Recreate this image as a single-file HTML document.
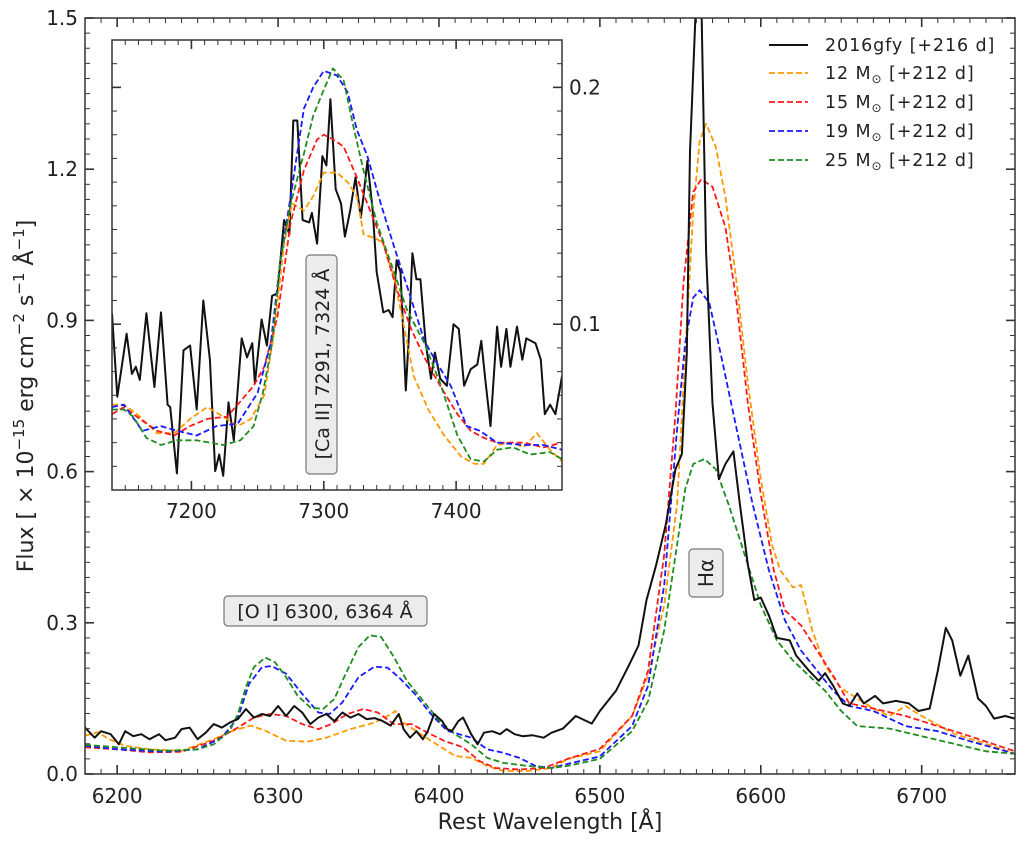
<!DOCTYPE html>
<html><head><meta charset="utf-8">
<style>
body{margin:0;background:#fff;}
svg{display:block;font-family:"DejaVu Sans","Liberation Sans",sans-serif;}
</style></head>
<body>
<svg id="chart" width="1025" height="845" viewBox="0 0 1025 845" xmlns="http://www.w3.org/2000/svg">
<defs>
<clipPath id="mainClip"><rect x="85" y="18" width="930" height="756"/></clipPath>
<clipPath id="insetClip"><rect x="112" y="40" width="450" height="450"/></clipPath>
</defs>
<g id="main"></g>
<g id="inset"></g>
<text x="550" y="829" font-size="22" text-anchor="middle" fill="#222">Rest Wavelength [Å]</text>
<text transform="translate(33,396) rotate(-90)" font-size="22" text-anchor="middle" fill="#222">Flux [ × 10<tspan dy="-9" font-size="15">−15</tspan><tspan dy="9"> erg cm</tspan><tspan dy="-9" font-size="15">−2</tspan><tspan dy="9"> s</tspan><tspan dy="-9" font-size="15">−1</tspan><tspan dy="9"> Å</tspan><tspan dy="-9" font-size="15">−1</tspan><tspan dy="9">]</tspan></text>
<g>
<rect x="224" y="596" width="203" height="30" rx="4" fill="#ececec" stroke="#777" stroke-width="1.2"/>
<text x="325" y="618" font-size="19" text-anchor="middle" fill="#222">[O I] 6300,  6364 Å</text>
</g>
<g>
<rect x="689" y="549" width="34" height="48" rx="4" fill="#ececec" stroke="#777" stroke-width="1.2"/>
<text transform="translate(713,573) rotate(-90)" font-size="20" text-anchor="middle" fill="#222">Hα</text>
</g>
<g id="legend"></g>
</svg>
<script>
// ---------- main panel data ----------
const obsWave = [6180,6186,6190,6196,6201,6205,6210,6215,6220,6226,6230,6236,6240,6245,6250,6255,6260,6265,6270,6275,6280,6285,6290,6295,6300,6305,6310,6315,6320,6325,6330,6335,6340,6345,6350,6355,6360,6365,6370,6375,6378,6382,6386,6390,6393,6397,6402,6405,6408,6412,6415,6420,6424,6428,6433,6438,6442,6447,6452,6458,6465,6470,6477,6485,6495,6500,6510,6518,6524,6529,6535,6541,6547,6551,6554,6556,6560,6563,6566,6570,6574,6578,6583,6587,6592,6596,6600,6605,6610,6618,6622,6630,6636,6640,6645,6651,6655,6660,6664,6671,6676,6684,6692,6698,6705,6710,6715,6719,6724,6729,6735,6740,6745,6752,6758];
const obsFlux = [0.092,0.072,0.085,0.079,0.059,0.085,0.075,0.079,0.069,0.079,0.067,0.072,0.089,0.092,0.069,0.082,0.099,0.092,0.102,0.109,0.129,0.112,0.119,0.115,0.135,0.115,0.135,0.122,0.099,0.112,0.119,0.105,0.122,0.112,0.119,0.109,0.111,0.105,0.096,0.119,0.089,0.072,0.085,0.069,0.085,0.119,0.105,0.089,0.085,0.105,0.112,0.079,0.059,0.082,0.085,0.079,0.089,0.079,0.075,0.077,0.072,0.082,0.09,0.115,0.10,0.125,0.165,0.215,0.255,0.345,0.415,0.495,0.605,0.635,0.835,1.235,1.55,1.55,1.035,0.735,0.585,0.615,0.64,0.535,0.415,0.345,0.35,0.315,0.27,0.265,0.235,0.205,0.185,0.2,0.175,0.14,0.135,0.16,0.14,0.155,0.14,0.145,0.14,0.125,0.13,0.205,0.29,0.265,0.195,0.235,0.15,0.135,0.11,0.115,0.11];
const m12Wave = [6180,6188,6195,6205,6220,6240,6260,6272,6283,6292,6305,6318,6330,6345,6360,6368,6373,6378,6390,6400,6410,6420,6430,6440,6455,6470,6480,6500,6520,6530,6540,6548,6553,6558,6562,6566,6572,6578,6585,6592,6600,6607,6612,6620,6625,6632,6640,6650,6660,6670,6680,6690,6700,6720,6740,6758];
const m12Flux = [0.076,0.083,0.069,0.056,0.049,0.046,0.069,0.086,0.096,0.086,0.066,0.064,0.072,0.089,0.102,0.115,0.125,0.102,0.076,0.056,0.036,0.032,0.016,0.006,0.006,0.012,0.03,0.045,0.115,0.195,0.335,0.535,0.835,1.115,1.255,1.29,1.245,1.145,0.975,0.775,0.585,0.455,0.405,0.37,0.375,0.285,0.215,0.17,0.15,0.13,0.115,0.135,0.115,0.08,0.06,0.04];
const m15Wave = [6180,6200,6220,6240,6260,6275,6285,6295,6305,6315,6325,6333,6343,6353,6362,6372,6383,6393,6403,6415,6425,6435,6450,6465,6480,6500,6520,6530,6540,6547,6552,6558,6563,6570,6578,6585,6592,6600,6608,6615,6625,6635,6645,6655,6670,6690,6710,6730,6758];
const m15Flux = [0.053,0.049,0.043,0.044,0.066,0.092,0.112,0.119,0.115,0.099,0.089,0.099,0.119,0.129,0.122,0.099,0.099,0.082,0.066,0.053,0.026,0.012,0.009,0.012,0.03,0.05,0.115,0.205,0.435,0.715,0.975,1.155,1.18,1.165,1.085,0.935,0.735,0.555,0.405,0.325,0.295,0.245,0.195,0.14,0.13,0.115,0.095,0.075,0.045];
const m19Wave = [6180,6200,6230,6250,6265,6275,6282,6290,6296,6305,6315,6325,6332,6340,6350,6360,6368,6375,6385,6395,6405,6420,6430,6440,6450,6460,6470,6480,6500,6520,6530,6540,6548,6553,6558,6562,6568,6575,6585,6595,6605,6615,6625,6635,6645,6655,6670,6690,6710,6730,6758];
const m19Flux = [0.056,0.049,0.044,0.049,0.072,0.112,0.179,0.212,0.214,0.199,0.159,0.122,0.119,0.142,0.192,0.213,0.211,0.192,0.159,0.119,0.086,0.072,0.049,0.042,0.032,0.016,0.012,0.02,0.035,0.095,0.175,0.375,0.685,0.855,0.945,0.96,0.935,0.835,0.685,0.535,0.405,0.305,0.245,0.205,0.165,0.135,0.125,0.095,0.085,0.065,0.04];
const m25Wave = [6180,6200,6230,6250,6260,6270,6275,6280,6285,6292,6298,6305,6312,6320,6328,6335,6342,6350,6357,6364,6372,6380,6390,6400,6410,6420,6430,6440,6455,6470,6480,6500,6520,6530,6540,6548,6553,6558,6565,6572,6580,6590,6600,6610,6620,6630,6640,6650,6660,6680,6700,6720,6740,6758];
const m25Flux = [0.058,0.053,0.046,0.049,0.059,0.086,0.119,0.172,0.212,0.231,0.222,0.192,0.156,0.132,0.129,0.149,0.199,0.252,0.275,0.272,0.232,0.185,0.146,0.106,0.079,0.059,0.032,0.022,0.016,0.012,0.016,0.03,0.085,0.145,0.285,0.455,0.565,0.615,0.625,0.605,0.535,0.435,0.335,0.265,0.225,0.195,0.165,0.125,0.095,0.09,0.075,0.06,0.045,0.04];
const mainXTicks = [6200,6300,6400,6500,6600,6700];
const mainYTicks = [0.0,0.3,0.6,0.9,1.2,1.5];
const mainYLabels = ["0.0","0.3","0.6","0.9","1.2","1.5"];

// ---------- inset data ----------
const inObsWave = [7140,7144,7148,7151,7155,7158,7161,7166,7172,7177,7182,7184,7189,7194,7199,7204,7209,7214,7218,7221,7224,7228,7232,7238,7242,7246,7248,7253,7257,7261,7265,7270,7274,7277,7280,7284,7289,7291,7295,7299,7302,7305,7309,7313,7316,7320,7324,7328,7330,7333,7337,7340,7345,7349,7352,7355,7358,7362,7364,7367,7370,7373,7377,7381,7384,7388,7393,7398,7402,7406,7411,7416,7419,7422,7426,7431,7434,7438,7441,7446,7450,7453,7460,7464,7467,7471,7475,7480];
const inObsFlux = [0.1046,0.0694,0.0845,0.096,0.079,0.082,0.0765,0.1046,0.0735,0.105,0.066,0.065,0.037,0.089,0.091,0.064,0.110,0.085,0.038,0.045,0.036,0.067,0.051,0.094,0.086,0.092,0.075,0.102,0.091,0.112,0.113,0.144,0.138,0.186,0.186,0.144,0.143,0.147,0.134,0.171,0.167,0.195,0.157,0.151,0.137,0.148,0.162,0.145,0.154,0.169,0.148,0.122,0.105,0.106,0.103,0.127,0.122,0.072,0.092,0.130,0.119,0.119,0.092,0.077,0.088,0.077,0.074,0.100,0.098,0.074,0.081,0.083,0.093,0.077,0.057,0.099,0.082,0.098,0.082,0.099,0.085,0.094,0.092,0.085,0.062,0.066,0.062,0.078];
const in12Wave = [7140,7149,7159,7174,7187,7199,7212,7224,7235,7245,7255,7262,7270,7276,7285,7292,7300,7310,7318,7325,7330,7340,7345,7353,7361,7368,7379,7391,7404,7414,7421,7431,7443,7451,7461,7471,7480];
const in12Flux = [0.066,0.066,0.062,0.054,0.054,0.06,0.065,0.061,0.057,0.06,0.07,0.095,0.134,0.151,0.148,0.154,0.164,0.164,0.16,0.154,0.138,0.136,0.134,0.12,0.098,0.078,0.064,0.053,0.044,0.041,0.041,0.049,0.05,0.048,0.054,0.047,0.042];
const in15Wave = [7140,7149,7161,7174,7187,7199,7212,7227,7238,7247,7255,7265,7275,7285,7295,7300,7307,7315,7325,7335,7345,7355,7366,7376,7388,7401,7411,7421,7431,7451,7466,7480];
const in15Flux = [0.062,0.065,0.06,0.055,0.053,0.057,0.06,0.061,0.068,0.074,0.082,0.103,0.143,0.165,0.178,0.18,0.178,0.175,0.162,0.148,0.134,0.115,0.098,0.086,0.074,0.062,0.055,0.052,0.05,0.05,0.048,0.05];
const in19Wave = [7140,7149,7163,7177,7189,7204,7219,7235,7250,7260,7267,7275,7285,7292,7300,7310,7318,7325,7333,7343,7353,7363,7376,7385,7396,7408,7418,7431,7451,7466,7480];
const in19Flux = [0.065,0.066,0.055,0.057,0.055,0.053,0.057,0.058,0.071,0.092,0.126,0.154,0.191,0.2,0.207,0.205,0.198,0.182,0.171,0.151,0.133,0.116,0.093,0.084,0.074,0.057,0.055,0.05,0.049,0.049,0.047];
const in25Wave = [7140,7149,7156,7166,7177,7189,7204,7224,7237,7247,7254,7261,7267,7275,7285,7292,7300,7307,7315,7323,7330,7340,7350,7363,7376,7388,7401,7411,7421,7431,7443,7456,7471,7480];
const in25Flux = [0.064,0.064,0.061,0.052,0.049,0.051,0.051,0.049,0.051,0.057,0.071,0.092,0.126,0.151,0.172,0.188,0.199,0.208,0.203,0.182,0.165,0.143,0.127,0.106,0.092,0.075,0.053,0.043,0.042,0.047,0.048,0.045,0.046,0.043];
const inXTicks = [7200,7300,7400];
const inYTicks = [0.1,0.2];
const inYLabels = ["0.1","0.2"];

const legendLabels = ["2016gfy [+216 d]","12 M","15 M","19 M","25 M"];
const legendColors = ["#111","#ff9900","#ff1a1a","#1a1aff","#1f8c1f"];

const NS = "http://www.w3.org/2000/svg";
function mk(tag, attrs, parent){const e=document.createElementNS(NS,tag);for(const k in attrs)e.setAttribute(k,attrs[k]);parent.appendChild(e);return e;}

const MX0=85,MX1=1015,MY0=774,MY1=18, XMIN=6180,XMAX=6758,YMIN=0,YMAX=1.5;
const mx = v => MX0+(v-XMIN)/(XMAX-XMIN)*(MX1-MX0);
const my = v => MY0-(v-YMIN)/(YMAX-YMIN)*(MY0-MY1);
const IX0=112,IX1=562,IY0=490,IY1=40, IXMIN=7140,IXMAX=7480,IYMIN=0.03,IYMAX=0.22;
const ix = v => IX0+(v-IXMIN)/(IXMAX-IXMIN)*(IX1-IX0);
const iy = v => IY0-(v-IYMIN)/(IYMAX-IYMIN)*(IY0-IY1);

const main=document.getElementById('main');
const inset=document.getElementById('inset');

function pathD(xs,ys,fx,fy){return xs.map((x,i)=>(i?'L':'M')+fx(x).toFixed(1)+','+fy(ys[i]).toFixed(1)).join('');}

const mainCurves=[[m12Wave,m12Flux,1,'model-12msun-line'],[m15Wave,m15Flux,2,'model-15msun-line'],[m19Wave,m19Flux,3,'model-19msun-line'],[m25Wave,m25Flux,4,'model-25msun-line']];
const mg=mk('g',{'clip-path':'url(#mainClip)'},main);
mainCurves.forEach(c=>{
  const p=mk('path',{d:pathD(c[0],c[1],mx,my),fill:'none',stroke:legendColors[c[2]],'stroke-width':1.8,'stroke-dasharray':'6,3','stroke-linejoin':'round'},mg);
  
  
});
const op=mk('path',{d:pathD(obsWave,obsFlux,mx,my),fill:'none',stroke:'#111','stroke-width':2,'stroke-linejoin':'round'},mg);



mk('rect',{x:MX0,y:MY1,width:MX1-MX0,height:MY0-MY1,fill:'none',stroke:'#333','stroke-width':1.5},main);
for(let w=6180;w<=6758;w+=10){
  const major=w%100===0, L=major?9:5, X=mx(w);
  mk('line',{x1:X,y1:MY0,x2:X,y2:MY0-L,stroke:'#333','stroke-width':major?1.6:1},main);
  mk('line',{x1:X,y1:MY1,x2:X,y2:MY1+L,stroke:'#333','stroke-width':major?1.6:1},main);
}
for(let k=0;k<=50;k++){
  const v=k*0.03, major=k%10===0, L=major?9:5, Y=my(v);
  mk('line',{x1:MX0,y1:Y,x2:MX0+L,y2:Y,stroke:'#333','stroke-width':major?1.6:1},main);
  mk('line',{x1:MX1,y1:Y,x2:MX1-L,y2:Y,stroke:'#333','stroke-width':major?1.6:1},main);
}
mainXTicks.forEach(t=>{
  const tx=mk('text',{x:mx(t),y:MY0+29,'font-size':20,'text-anchor':'middle',fill:'#222'},main);
  tx.textContent=t;
  
  
});
mainYTicks.forEach((t,i)=>{
  const tx=mk('text',{x:MX0-7,y:my(t)+7,'font-size':20,'text-anchor':'end',fill:'#222'},main);
  tx.textContent=mainYLabels[i];
  
  
});

mk('rect',{x:IX0,y:IY1,width:IX1-IX0,height:IY0-IY1,fill:'#fff'},inset);
const ig=mk('g',{'clip-path':'url(#insetClip)'},inset);
const inCurves=[[in12Wave,in12Flux,1,'inset-model-12msun-line'],[in15Wave,in15Flux,2,'inset-model-15msun-line'],[in19Wave,in19Flux,3,'inset-model-19msun-line'],[in25Wave,in25Flux,4,'inset-model-25msun-line']];
const iop=mk('path',{d:pathD(inObsWave,inObsFlux,ix,iy),fill:'none',stroke:'#111','stroke-width':2,'stroke-linejoin':'round'},ig);


inCurves.forEach(c=>{
  const p=mk('path',{d:pathD(c[0],c[1],ix,iy),fill:'none',stroke:legendColors[c[2]],'stroke-width':1.8,'stroke-dasharray':'6,3','stroke-linejoin':'round'},ig);
  
  
});
mk('rect',{x:IX0,y:IY1,width:IX1-IX0,height:IY0-IY1,fill:'none',stroke:'#333','stroke-width':1.5},inset);
for(let w=7140;w<=7480;w+=10){
  const major=w%100===0, L=major?9:5, X=ix(w);
  mk('line',{x1:X,y1:IY0,x2:X,y2:IY0-L,stroke:'#333','stroke-width':major?1.6:1},inset);
  mk('line',{x1:X,y1:IY1,x2:X,y2:IY1+L,stroke:'#333','stroke-width':major?1.6:1},inset);
}
for(let k=3;k<=22;k++){
  const v=k*0.01, major=k%10===0, L=major?9:5, Y=iy(v);
  mk('line',{x1:IX0,y1:Y,x2:IX0+L,y2:Y,stroke:'#333','stroke-width':major?1.6:1},inset);
  mk('line',{x1:IX1,y1:Y,x2:IX1-L,y2:Y,stroke:'#333','stroke-width':major?1.6:1},inset);
}
inXTicks.forEach(t=>{
  const tx=mk('text',{x:ix(t),y:IY0+28,'font-size':20,'text-anchor':'middle',fill:'#222'},inset);
  tx.textContent=t;
  
  
});
inYTicks.forEach((t,i)=>{
  const tx=mk('text',{x:IX1+7,y:iy(t)+7,'font-size':20,'text-anchor':'start',fill:'#222'},inset);
  tx.textContent=inYLabels[i];
  
  
});
const cag=mk('g',{},inset);


mk('rect',{x:306,y:255,width:31,height:219,rx:4,fill:'#ececec',stroke:'#777','stroke-width':1.2},cag);
const cat=mk('text',{transform:'translate(329,364) rotate(-90)','font-size':19,'text-anchor':'middle',fill:'#222'},cag);
cat.textContent='[Ca II] 7291,  7324 Å';

const lg=document.getElementById('legend');
const rowY=[45,73,102,131,160];
legendLabels.forEach((lab,i)=>{
  const g=mk('g',{},lg);
  
  
  const la={x1:769,x2:808,y1:rowY[i],y2:rowY[i],stroke:legendColors[i],'stroke-width':i?1.8:2};
  if(i) la['stroke-dasharray']='6,3';
  mk('line',la,g);
  const t=mk('text',{x:825,y:rowY[i]+6,'font-size':17.5,'letter-spacing':'0.9',fill:'#222'},g);
  if(i===0){t.textContent=lab;}
  else{
    t.textContent=lab;
    const s=mk('tspan',{'font-size':12,dy:4},t); s.textContent='⊙';
    const r=mk('tspan',{dy:-4},t); r.textContent=' [+212 d]';
  }
});
</script>
</body></html>
